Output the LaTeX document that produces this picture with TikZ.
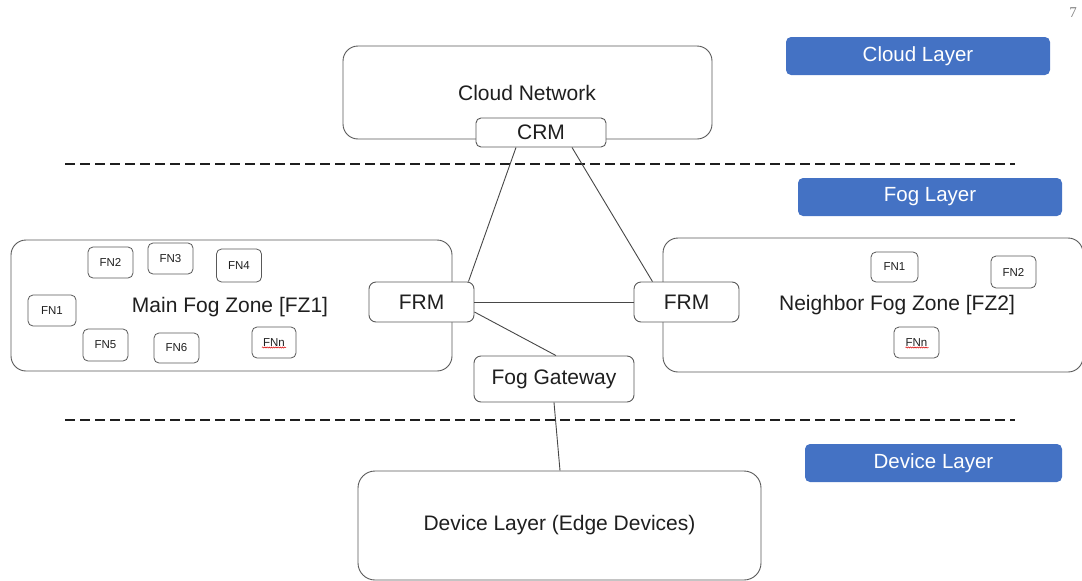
\documentclass[tikz,border=0pt]{standalone}
\usepackage{fontspec}
\setmainfont{Liberation Sans}
\newfontfamily\pagefont{Liberation Serif}
\usetikzlibrary{calc,decorations.pathmorphing}
\definecolor{edge}{HTML}{595959}
\definecolor{ink}{HTML}{1F1F1F}
\definecolor{layerblue}{HTML}{4472C4}
\tikzset{
  bigbox/.style={draw=edge, line width=0.9pt, rounded corners=15pt, fill=white,
    inner sep=0pt, text=ink, font=\fontsize{21}{24}\selectfont},
  midbox/.style={draw=edge, line width=0.9pt, rounded corners=7pt, fill=white,
    inner sep=0pt, text=ink, font=\fontsize{21}{24}\selectfont},
  fnbox/.style={draw=edge, line width=0.8pt, rounded corners=5pt, fill=white,
    inner sep=0pt, minimum width=45pt, minimum height=31pt, text=ink,
    font=\fontsize{11.5}{13}\selectfont},
  layerbox/.style={fill=layerblue, rounded corners=5pt, inner sep=0pt,
    minimum height=38pt, text=white, font=\fontsize{20.5}{23}\selectfont},
  zonetext/.style={text=ink, font=\fontsize{21}{24}\selectfont},
  link/.style={draw=edge!80!black, line width=0.9pt},
  divider/.style={draw=ink, line width=1.6pt, dash pattern=on 9.5pt off 5.5pt},
  spellmark/.style={draw=red!85!black, line width=0.5pt,
    decorate, decoration={snake, segment length=2.2pt, amplitude=0.6pt}}
}
\begin{document}
\begin{tikzpicture}[x=1pt, y=-1pt]
\useasboundingbox (0,0) rectangle (1082,581);

% page number
\node[text=gray, font=\pagefont\fontsize{15}{17}\selectfont] (pagenum) at (1073,13) {7};

% layer labels
\node[layerbox, minimum width=264pt] (cloudlayer) at (918,56) {Cloud Layer};
\node[layerbox, minimum width=264pt] (foglayer) at (930,197) {Fog Layer};
\node[layerbox, minimum width=257pt] (devlayer) at (933.5,463) {Device Layer};

% layer dividers
\coordinate (divAl) at (65,164);
\coordinate (divAr) at (1015,164);
\coordinate (divBl) at (65,420);
\coordinate (divBr) at (1015,420);
\draw[divider] (divAl) -- (divAr);
\draw[divider] (divBl) -- (divBr);

% cloud
\node[bigbox, minimum width=369pt, minimum height=93pt] (cloud) at (527.5,92.5) {};
\node[zonetext] (cloudtxt) at (527,93) {Cloud Network};
\node[midbox, rounded corners=5pt, minimum width=130pt, minimum height=29pt] (crm) at (541,132.5) {CRM};

% fog zones
\node[bigbox, minimum width=441pt, minimum height=131pt] (fz1) at (231.5,305.5) {};
\node[zonetext] (fz1txt) at (230,307) {Main Fog Zone [FZ1]};
\node[bigbox, minimum width=420pt, minimum height=134pt] (fz2) at (873,305) {};
\node[zonetext] (fz2txt) at (897,305) {Neighbor Fog Zone [FZ2]};

% fog nodes, zone 1
\node[fnbox, minimum width=48pt] (a1) at (52,310.5) {FN1};
\node[fnbox] (a2) at (110.5,262.5) {FN2};
\node[fnbox] (a3) at (170.5,258.5) {FN3};
\node[fnbox, minimum height=33pt] (a4) at (239,265.5) {FN4};
\node[fnbox, minimum height=32pt] (a5) at (105.5,345) {FN5};
\node[fnbox, minimum height=30pt] (a6) at (176.5,348) {FN6};
\node[fnbox, minimum width=44pt] (an) at (274,342.5) {FNn};
\draw[spellmark] ($(an.center)+(-12,5)$) -- ($(an.center)+(12,5)$);

% fog nodes, zone 2
\node[fnbox, minimum width=47pt, minimum height=30pt] (b1) at (894.5,267) {FN1};
\node[fnbox, minimum height=32pt] (b2) at (1013.5,272) {FN2};
\node[fnbox] (bn) at (916.5,342.5) {FNn};
\draw[spellmark] ($(bn.center)+(-11,5)$) -- ($(bn.center)+(12,5)$);

% resource managers and gateway
\node[midbox, minimum width=105pt, minimum height=40pt] (frm1) at (421.5,302) {FRM};
\node[midbox, minimum width=105pt, minimum height=40pt] (frm2) at (686.5,302) {FRM};
\node[midbox, minimum width=160pt, minimum height=46pt] (gw) at (554,379) {Fog Gateway};

% device layer
\node[bigbox, rounded corners=17pt, minimum width=403pt, minimum height=109pt] (dev) at (559.5,525.5) {Device Layer (Edge Devices)};

% connectors
\draw[link] ([xshift=-25pt]crm.south) -- ([xshift=-6pt]frm1.north east);
\draw[link] ([xshift=31pt]crm.south) -- ([xshift=-34pt]frm2.north);
\draw[link] (frm1.east) -- (frm2.west);
\draw[link] ([yshift=-10pt]frm1.east) -- ([xshift=2pt]gw.north);
\draw[link] (gw.south) -- ([xshift=0.5pt]dev.north);
\end{tikzpicture}
\end{document}
